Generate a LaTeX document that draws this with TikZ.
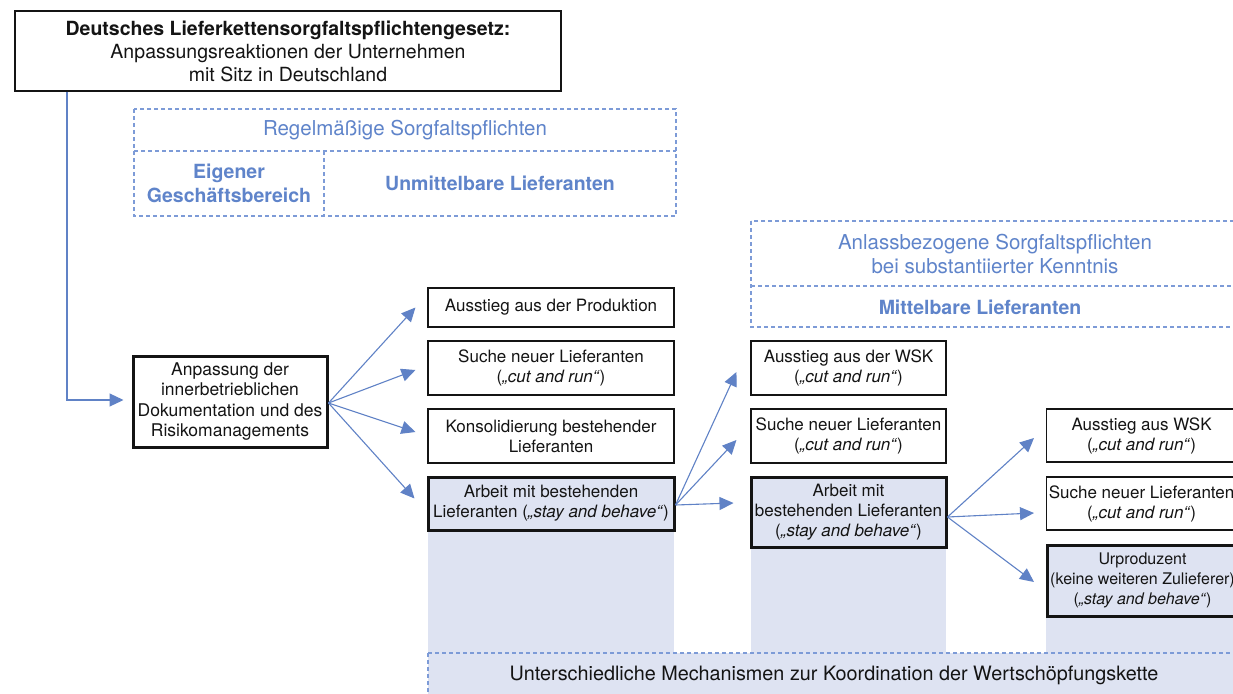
\documentclass[tikz,border=0pt]{standalone}
\usepackage{fontspec}
\setmainfont{TeX Gyre Heros}
\usetikzlibrary{arrows.meta}
\definecolor{lineblue}{RGB}{96,130,198}
\definecolor{dashblue}{RGB}{125,155,215}
\definecolor{textblue}{RGB}{95,132,202}
\definecolor{colfill}{RGB}{222,227,242}
\definecolor{ink}{RGB}{20,20,20}
\begin{document}
\begin{tikzpicture}[x=1pt,y=-1pt,
  box/.style={draw=ink, line width=1.1pt, fill=white, inner sep=0pt, align=center, text=ink, font=\fontsize{17}{20}\selectfont},
  thickbox/.style={box, line width=3pt, fill=colfill},
  conn/.style={draw=lineblue, line width=1.1pt, -{Triangle[length=14pt,width=13pt]}},
  dashline/.style={draw=dashblue, line width=1.3pt, dash pattern=on 4pt off 3pt},
  head/.style={text=textblue, align=center, font=\fontsize{20.5}{24}\selectfont, inner sep=0pt},
  headbold/.style={head, font=\fontsize{19.5}{23.5}\selectfont\bfseries},
  colbg/.style={fill=colfill, draw=none}
]
\useasboundingbox (0,0) rectangle (1233,693);
\clip (0,0) rectangle (1233,693);
\fill[white] (0,0) rectangle (1233,693);

% background columns
\path[colbg] (428,477) rectangle (674,653);
\path[colbg] (751,477) rectangle (946,653);
\path[colbg] (1046,545) rectangle (1240,653);
\path[colbg] (428,653) rectangle (1240,700);

% dashed header boxes
\draw[dashline] (134,109) rectangle (676,216);
\draw[dashline] (134,151) -- (676,151);
\draw[dashline] (324,151) -- (324,216);
\node[head] (regel) at (405,130) {Regelmäßige Sorgfaltspflichten};
\node[headbold] (eigen) at (229,183.5) {Eigener\\Geschäftsbereich};
\node[headbold] (unmit) at (500,183.5) {Unmittelbare Lieferanten};

\draw[dashline] (751,221) rectangle (1240,327);
\draw[dashline] (751,286) -- (1240,286);
\node[head] (anlass) at (995,254) {Anlassbezogene Sorgfaltspflichten\\bei substantiierter Kenntnis};
\node[headbold] (mittel) at (980,307) {Mittelbare Lieferanten};

\draw[dashline] (428,653) -- (1240,653);
\draw[dashline] (428,653) -- (428,700);
\node[inner sep=0pt, text=ink, font=\fontsize{19.8}{23}\selectfont] (mech) at (834,675) {Unterschiedliche Mechanismen zur Koordination der Wertschöpfungskette};

% top box
\node[box, minimum width=546pt, minimum height=80pt, font=\fontsize{19.5}{23}\selectfont] (top) at (288,51)
  {\textbf{Deutsches Lieferkettensorgfaltspflichtengesetz:}\\Anpassungsreaktionen der Unternehmen\\mit Sitz in Deutschland};

% left box
\node[box, line width=3pt, minimum width=194pt, minimum height=91pt, font=\fontsize{17.5}{20.5}\selectfont] (anp) at (230,401.5)
  {Anpassung der\\innerbetrieblichen\\Dokumentation und des\\Risikomanagements};

% column 1
\node[box, minimum width=246pt, minimum height=39pt] (b1) at (551,307.5) {Ausstieg aus der Produktion};
\node[box, minimum width=246pt, minimum height=54pt] (b2) at (551,368) {Suche neuer Lieferanten\\(\textit{„cut and run“})};
\node[box, minimum width=246pt, minimum height=54pt] (b3) at (551,436) {Konsolidierung bestehender\\Lieferanten};
\node[thickbox, minimum width=246pt, minimum height=53pt] (b4) at (551,503.5) {Arbeit mit bestehenden\\Lieferanten (\textit{„stay and behave“})};

% column 2
\node[box, minimum width=195pt, minimum height=54pt] (m1) at (848.5,368) {Ausstieg aus der WSK\\(\textit{„cut and run“})};
\node[box, minimum width=195pt, minimum height=54pt] (m2) at (848.5,436) {Suche neuer Lieferanten\\(\textit{„cut and run“})};
\node[thickbox, minimum width=195pt, minimum height=70pt] (m3) at (848.5,512) {Arbeit mit\\bestehenden Lieferanten\\(\textit{„stay and behave“})};

% column 3
\node[box, anchor=west, minimum width=190pt, minimum height=53pt] (r1) at (1046,435.5) {Ausstieg aus WSK\\(\textit{„cut and run“})};
\node[box, anchor=west, minimum width=190pt, minimum height=53pt] (r2) at (1046,503.5) {Suche neuer Lieferanten\\(\textit{„cut and run“})};
\node[thickbox, anchor=west, minimum width=190pt, minimum height=71pt, font=\fontsize{16}{20}\selectfont] (r3) at (1046,580.5) {Urproduzent\\(keine weiteren Zulieferer)\\(\textit{„stay and behave“})};

% connectors
\draw[conn] ([xshift=-221pt]top.south) |- ([xshift=-8pt,yshift=1.5pt]anp.west);

\draw[conn] ([yshift=-1.5pt]anp.east) -- ([xshift=-12pt]b1.west);
\draw[conn] ([yshift=-1.5pt]anp.east) -- ([xshift=-12pt,yshift=-2pt]b2.west);
\draw[conn] ([yshift=-1.5pt]anp.east) -- ([xshift=-12pt,yshift=4pt]b3.west);
\draw[conn] ([yshift=-1.5pt]anp.east) -- ([xshift=-12pt,yshift=5pt]b4.west);

\draw[conn] ([yshift=-1.5pt]b4.east) -- ([xshift=-14pt,yshift=-4pt]m1.west);
\draw[conn] ([yshift=-1.5pt]b4.east) -- ([xshift=-14pt,yshift=-4pt]m2.west);
\draw[conn] ([yshift=-1.5pt]b4.east) -- ([xshift=-16pt,yshift=9pt]m3.west);

\draw[conn] ([yshift=-5pt]m3.east) -- ([xshift=-12pt,yshift=-2.5pt]r1.west);
\draw[conn] ([yshift=-5pt]m3.east) -- ([xshift=-12pt,yshift=-9.5pt]r2.west);
\draw[conn] ([yshift=-5pt]m3.east) -- ([xshift=-12pt,yshift=-1.5pt]r3.west);
\end{tikzpicture}
\end{document}
